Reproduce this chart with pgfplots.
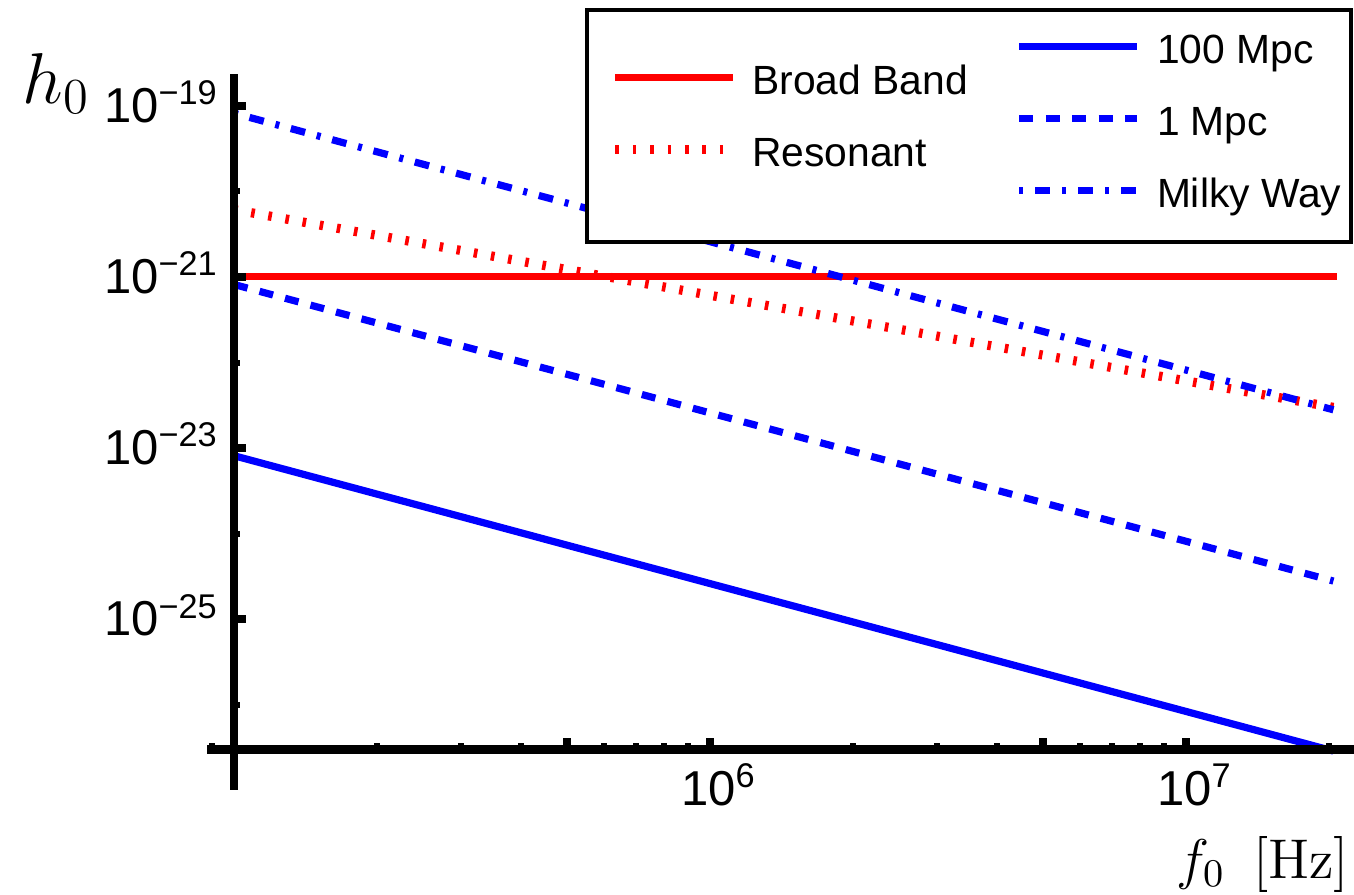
\documentclass[border=0pt]{standalone}
\usepackage{fix-cm}
\usepackage[no-math]{fontspec}
\setmainfont{Liberation Sans}
\usepackage{pgfplots}
\pgfplotsset{compat=1.18}

\begin{document}
\begin{tikzpicture}
\useasboundingbox (0,0) rectangle (338.5pt,223.5pt);

\begin{axis}[
  scale only axis, width=280pt, height=168.875pt,
  at={(58.5pt,36.125pt)}, anchor=south west,
  xmode=log, ymode=log,
  xmin=1e5, xmax=2.254e7, ymin=3.02e-27, ymax=2.344e-19,
  axis on top, clip=false,
  axis lines=left,
  axis line style={-, line width=2.2pt, black},
  every outer x axis line/.append style={-},
  every outer y axis line/.append style={-},
  tick align=inside,
  major tick length=2.9pt, minor tick length=1.6pt,
  major tick style={line width=2pt, black},
  minor tick style={line width=1.5pt, black},
  xtick={1e6,1e7},
  xticklabels={10\textsuperscript{6},10\textsuperscript{7}},
  minor xtick={2e5,3e5,4e5,6e5,7e5,8e5,9e5,2e6,3e6,4e6,6e6,7e6,8e6,9e6,2e7},
  extra x ticks={5e5,5e6},
  extra x tick labels={\relax,\relax},
  ytick={1e-25,1e-23,1e-21,1e-19},
  yticklabels={10\textsuperscript{−25},10\textsuperscript{−23},10\textsuperscript{−21},10\textsuperscript{−19}},
  minor ytick={1e-26,1e-24,1e-22,1e-20},
  tick label style={font=\fontsize{12.25}{14}\selectfont},
  xticklabel style={anchor=base, inner sep=0pt, yshift=-13.9pt, xshift=2.2pt},
  yticklabel style={anchor=base east, inner sep=0pt, xshift=-3.6pt, yshift=-4.1pt},
]
% Broad Band
\addplot[red, line width=1.75pt] coordinates {(1e5,1e-21) (2.08e7,1e-21)};
% Resonant
\addplot[red, line width=2.3pt, dash pattern=on 0.9pt off 3.45pt] coordinates {(1e5,6.11e-21) (2.04e7,2.995e-23)};
% 100 Mpc
\addplot[blue, line width=1.8pt] coordinates {(1e5,8.166e-24) (2.04e7,2.9e-27)};
% 1 Mpc
\addplot[blue, line width=1.8pt, dash pattern=on 3.5pt off 3.1pt] coordinates {(1e5,8.166e-22) (2.04e7,2.805e-25)};
% Milky Way
\addplot[blue, line width=1.8pt, dash pattern=on 3.7pt off 3pt on 1pt off 3pt, dash phase=6.7pt] coordinates {(1e5,8.166e-20) (2.04e7,2.805e-23)};

\draw[line width=2.2pt] (rel axis cs:0,0) -- (rel axis cs:0,-0.06);
\draw[line width=2.2pt] (rel axis cs:-0.0241,0) -- (rel axis cs:0,0);
\draw[line width=1.5pt] (rel axis cs:-0.01946,0) -- ++(0pt,1.6pt);
\end{axis}

\filldraw[fill=white, draw=black, line width=1pt] (146.75pt,163pt) rectangle (337.75pt,221pt);

\begin{axis}[
  scale only axis, width=280pt, height=168.875pt,
  at={(58.5pt,36.125pt)}, anchor=south west,
  xmin=0, xmax=1, ymin=0, ymax=1,
  hide axis,
  legend image code/.code={\draw[#1] (0pt,4.25pt) -- (29.5pt,4.25pt);},
  legend style={draw=none, fill=none, inner sep=0pt, anchor=north west,
    at={(0.33571,1.01421)},
    font=\fontsize{10.2}{12}\selectfont, row sep=10.6pt, column sep=3.6pt,
    cells={anchor=base west},
    nodes={inner sep=0pt, text height=7.4pt, text depth=0pt}},
]
\addlegendimage{red, line width=1.75pt}
\addlegendentry{Broad Band}
\addlegendimage{red, line width=2.3pt, dash pattern=on 0.9pt off 3.45pt}
\addlegendentry{Resonant}
\end{axis}

\begin{axis}[
  scale only axis, width=280pt, height=168.875pt,
  at={(58.5pt,36.125pt)}, anchor=south west,
  xmin=0, xmax=1, ymin=0, ymax=1,
  hide axis,
  legend image code/.code={\draw[#1] (0pt,4.25pt) -- (29.5pt,4.25pt);},
  legend style={draw=none, fill=none, inner sep=0pt, anchor=north west,
    at={(0.69732,1.06010)},
    font=\fontsize{10.2}{12}\selectfont, row sep=10.6pt, column sep=4pt,
    cells={anchor=base west},
    nodes={inner sep=0pt, text height=7.4pt, text depth=0pt}},
]
\addlegendimage{blue, line width=1.8pt}
\addlegendentry{100 Mpc}
\addlegendimage{blue, line width=1.8pt, dash pattern=on 3.5pt off 3.1pt}
\addlegendentry{1 Mpc}
\addlegendimage{blue, line width=1.8pt, dash pattern=on 3.7pt off 3pt on 1pt off 3pt, dash phase=6.7pt}
\addlegendentry{Milky Way}
\end{axis}

\node[anchor=base west, inner sep=0pt, font=\fontsize{18}{20}\selectfont] at (5.5pt,197.75pt) {$h_0$};
\node[anchor=base east, inner sep=0pt, font=\fontsize{14}{16}\selectfont] at (337.5pt,4pt) {$f_0$\hspace{0.5em}$[\mathrm{Hz}]$};
\end{tikzpicture}
\end{document}
